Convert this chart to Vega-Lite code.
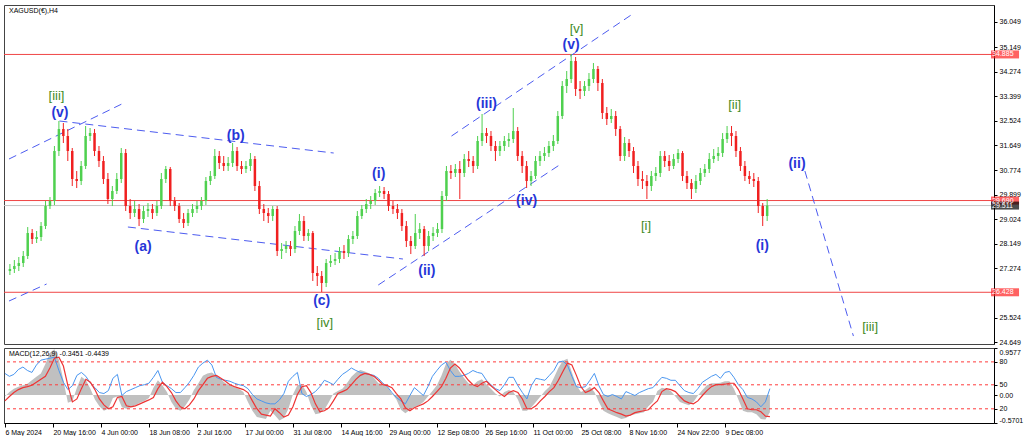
{
"$schema":"https://vega.github.io/schema/vega-lite/v6.json",
"background":"white",
"padding":{"left":2,"top":4,"right":0,"bottom":0},
"bounds":"flush",
"spacing":4,
"datasets":{
"candles":[
{"k":0,"o":27.184,"h":27.433,"l":27.042,"c":27.255},
{"k":1,"o":27.255,"h":27.575,"l":27.113,"c":27.362},
{"k":2,"o":27.362,"h":27.682,"l":27.184,"c":27.468},
{"k":3,"o":27.468,"h":27.895,"l":27.326,"c":27.717},
{"k":4,"o":27.717,"h":28.748,"l":27.611,"c":28.535},
{"k":5,"o":28.535,"h":28.677,"l":28.144,"c":28.322},
{"k":6,"o":28.322,"h":28.607,"l":28.18,"c":28.393},
{"k":7,"o":28.393,"h":28.926,"l":28.251,"c":28.784},
{"k":8,"o":28.784,"h":29.673,"l":28.677,"c":29.495},
{"k":9,"o":29.495,"h":29.815,"l":29.389,"c":29.673},
{"k":10,"o":29.673,"h":31.629,"l":29.531,"c":31.451},
{"k":11,"o":31.451,"h":32.518,"l":31.273,"c":32.233},
{"k":12,"o":32.233,"h":32.447,"l":31.736,"c":31.985},
{"k":13,"o":31.985,"h":32.233,"l":31.096,"c":31.451},
{"k":14,"o":31.451,"h":31.558,"l":30.206,"c":30.456},
{"k":15,"o":30.456,"h":30.74,"l":30.135,"c":30.384},
{"k":16,"o":30.384,"h":31.096,"l":30.242,"c":30.918},
{"k":17,"o":30.918,"h":32.34,"l":30.811,"c":31.985},
{"k":18,"o":31.985,"h":32.269,"l":31.807,"c":32.091},
{"k":19,"o":32.091,"h":32.233,"l":31.273,"c":31.451},
{"k":20,"o":31.451,"h":31.629,"l":30.882,"c":31.096},
{"k":21,"o":31.096,"h":31.273,"l":30.278,"c":30.456},
{"k":22,"o":30.456,"h":30.669,"l":29.566,"c":29.744},
{"k":23,"o":29.744,"h":30.206,"l":29.495,"c":30.029},
{"k":24,"o":30.029,"h":30.669,"l":29.922,"c":30.456},
{"k":25,"o":30.456,"h":31.558,"l":30.313,"c":31.38},
{"k":26,"o":31.38,"h":31.522,"l":29.318,"c":29.495},
{"k":27,"o":29.495,"h":29.744,"l":29.033,"c":29.246},
{"k":28,"o":29.246,"h":29.673,"l":29.104,"c":29.389},
{"k":29,"o":29.389,"h":29.566,"l":28.784,"c":29.033},
{"k":30,"o":29.033,"h":29.495,"l":28.891,"c":29.318},
{"k":31,"o":29.318,"h":29.602,"l":29.104,"c":29.389},
{"k":32,"o":29.389,"h":29.566,"l":29.033,"c":29.246},
{"k":33,"o":29.246,"h":29.673,"l":29.14,"c":29.495},
{"k":34,"o":29.495,"h":30.669,"l":29.389,"c":30.456},
{"k":35,"o":30.456,"h":30.918,"l":30.313,"c":30.811},
{"k":36,"o":30.811,"h":30.882,"l":29.495,"c":29.673},
{"k":37,"o":29.673,"h":29.815,"l":29.318,"c":29.495},
{"k":38,"o":29.495,"h":29.602,"l":28.891,"c":29.033},
{"k":39,"o":29.033,"h":29.246,"l":28.713,"c":28.891},
{"k":40,"o":28.891,"h":29.389,"l":28.784,"c":29.246},
{"k":41,"o":29.246,"h":29.566,"l":29.104,"c":29.389},
{"k":42,"o":29.389,"h":29.673,"l":29.246,"c":29.495},
{"k":43,"o":29.495,"h":29.815,"l":29.353,"c":29.673},
{"k":44,"o":29.673,"h":30.526,"l":29.531,"c":30.384},
{"k":45,"o":30.384,"h":30.74,"l":30.242,"c":30.562},
{"k":46,"o":30.562,"h":31.522,"l":30.456,"c":31.273},
{"k":47,"o":31.273,"h":31.451,"l":30.811,"c":31.024},
{"k":48,"o":31.024,"h":31.273,"l":30.74,"c":30.918},
{"k":49,"o":30.918,"h":31.238,"l":30.74,"c":31.024},
{"k":50,"o":31.024,"h":31.736,"l":30.882,"c":31.451},
{"k":51,"o":31.451,"h":31.593,"l":30.74,"c":30.918},
{"k":52,"o":30.918,"h":31.096,"l":30.633,"c":30.811},
{"k":53,"o":30.811,"h":31.096,"l":30.669,"c":30.918},
{"k":54,"o":30.918,"h":31.38,"l":30.74,"c":31.167},
{"k":55,"o":31.167,"h":31.273,"l":30.029,"c":30.206},
{"k":56,"o":30.206,"h":30.384,"l":29.211,"c":29.389},
{"k":57,"o":29.389,"h":29.566,"l":28.962,"c":29.246},
{"k":58,"o":29.246,"h":29.424,"l":28.891,"c":29.14},
{"k":59,"o":29.14,"h":29.495,"l":28.962,"c":29.389},
{"k":60,"o":29.389,"h":29.495,"l":27.717,"c":27.895},
{"k":61,"o":27.895,"h":28.18,"l":27.611,"c":27.966},
{"k":62,"o":27.966,"h":28.251,"l":27.824,"c":28.073},
{"k":63,"o":28.073,"h":28.251,"l":27.717,"c":27.966},
{"k":64,"o":27.966,"h":28.784,"l":27.824,"c":28.607},
{"k":65,"o":28.607,"h":29.211,"l":28.464,"c":28.962},
{"k":66,"o":28.962,"h":29.14,"l":28.251,"c":28.429},
{"k":67,"o":28.429,"h":28.677,"l":28.251,"c":28.535},
{"k":68,"o":28.535,"h":28.607,"l":26.829,"c":27.113},
{"k":69,"o":27.113,"h":27.362,"l":26.651,"c":27.006},
{"k":70,"o":27.006,"h":27.184,"l":26.437,"c":26.757},
{"k":71,"o":26.757,"h":27.611,"l":26.615,"c":27.468},
{"k":72,"o":27.468,"h":27.753,"l":27.326,"c":27.54},
{"k":73,"o":27.54,"h":27.824,"l":27.397,"c":27.611},
{"k":74,"o":27.611,"h":28.037,"l":27.468,"c":27.895},
{"k":75,"o":27.895,"h":28.108,"l":27.611,"c":27.824},
{"k":76,"o":27.824,"h":28.464,"l":27.682,"c":28.322},
{"k":77,"o":28.322,"h":28.607,"l":28.144,"c":28.429},
{"k":78,"o":28.429,"h":29.318,"l":28.322,"c":29.14},
{"k":79,"o":29.14,"h":29.531,"l":29.033,"c":29.389},
{"k":80,"o":29.389,"h":29.744,"l":29.246,"c":29.566},
{"k":81,"o":29.566,"h":29.851,"l":29.389,"c":29.673},
{"k":82,"o":29.673,"h":30.1,"l":29.531,"c":29.958},
{"k":83,"o":29.958,"h":30.206,"l":29.815,"c":30.029},
{"k":84,"o":30.029,"h":30.171,"l":29.744,"c":29.922},
{"k":85,"o":29.922,"h":30.029,"l":29.318,"c":29.495},
{"k":86,"o":29.495,"h":29.673,"l":29.211,"c":29.389},
{"k":87,"o":29.389,"h":29.566,"l":29.033,"c":29.246},
{"k":88,"o":29.246,"h":29.389,"l":28.607,"c":28.784},
{"k":89,"o":28.784,"h":28.962,"l":28.037,"c":28.251},
{"k":90,"o":28.251,"h":28.429,"l":27.788,"c":28.073},
{"k":91,"o":28.073,"h":29.211,"l":27.966,"c":28.535},
{"k":92,"o":28.535,"h":28.891,"l":28.322,"c":28.677},
{"k":93,"o":28.677,"h":28.784,"l":27.717,"c":28.073},
{"k":94,"o":28.073,"h":28.607,"l":27.895,"c":28.429},
{"k":95,"o":28.429,"h":28.748,"l":28.251,"c":28.535},
{"k":96,"o":28.535,"h":28.891,"l":28.393,"c":28.677},
{"k":97,"o":28.677,"h":30.029,"l":28.535,"c":29.851},
{"k":98,"o":29.851,"h":30.918,"l":29.673,"c":30.74},
{"k":99,"o":30.74,"h":30.953,"l":30.456,"c":30.669},
{"k":100,"o":30.669,"h":30.989,"l":30.526,"c":30.811},
{"k":101,"o":30.811,"h":31.096,"l":29.744,"c":30.669},
{"k":102,"o":30.669,"h":31.344,"l":30.526,"c":31.167},
{"k":103,"o":31.167,"h":31.451,"l":30.882,"c":31.096},
{"k":104,"o":31.096,"h":31.273,"l":30.669,"c":30.918},
{"k":105,"o":30.918,"h":31.985,"l":30.811,"c":31.807},
{"k":106,"o":31.807,"h":32.767,"l":31.629,"c":32.091},
{"k":107,"o":32.091,"h":32.269,"l":31.736,"c":31.985},
{"k":108,"o":31.985,"h":32.162,"l":31.451,"c":31.629},
{"k":109,"o":31.629,"h":31.807,"l":31.096,"c":31.451},
{"k":110,"o":31.451,"h":31.807,"l":31.273,"c":31.629},
{"k":111,"o":31.629,"h":31.985,"l":31.451,"c":31.807},
{"k":112,"o":31.807,"h":32.091,"l":31.593,"c":31.878},
{"k":113,"o":31.878,"h":32.98,"l":31.736,"c":32.162},
{"k":114,"o":32.162,"h":32.304,"l":31.096,"c":31.273},
{"k":115,"o":31.273,"h":31.451,"l":30.669,"c":30.918},
{"k":116,"o":30.918,"h":31.096,"l":30.135,"c":30.384},
{"k":117,"o":30.384,"h":30.74,"l":30.206,"c":30.562},
{"k":118,"o":30.562,"h":31.273,"l":30.456,"c":31.096},
{"k":119,"o":31.096,"h":31.451,"l":30.918,"c":31.273},
{"k":120,"o":31.273,"h":31.593,"l":31.096,"c":31.38},
{"k":121,"o":31.38,"h":31.807,"l":31.238,"c":31.629},
{"k":122,"o":31.629,"h":32.02,"l":31.451,"c":31.807},
{"k":123,"o":31.807,"h":32.873,"l":31.7,"c":32.696},
{"k":124,"o":32.696,"h":33.94,"l":32.589,"c":33.762},
{"k":125,"o":33.762,"h":34.296,"l":33.513,"c":34.011},
{"k":126,"o":34.011,"h":34.9,"l":33.869,"c":34.651},
{"k":127,"o":34.651,"h":34.794,"l":33.407,"c":33.656},
{"k":128,"o":33.656,"h":33.94,"l":33.3,"c":33.585},
{"k":129,"o":33.585,"h":33.94,"l":33.407,"c":33.762},
{"k":130,"o":33.762,"h":34.225,"l":33.585,"c":34.011},
{"k":131,"o":34.011,"h":34.58,"l":33.869,"c":34.367},
{"k":132,"o":34.367,"h":34.474,"l":33.585,"c":33.869},
{"k":133,"o":33.869,"h":34.011,"l":32.589,"c":32.802},
{"k":134,"o":32.802,"h":33.016,"l":32.376,"c":32.589},
{"k":135,"o":32.589,"h":32.945,"l":32.447,"c":32.696},
{"k":136,"o":32.696,"h":32.873,"l":31.985,"c":32.233},
{"k":137,"o":32.233,"h":32.34,"l":31.096,"c":31.273},
{"k":138,"o":31.273,"h":31.949,"l":31.096,"c":31.736},
{"k":139,"o":31.736,"h":31.878,"l":31.238,"c":31.451},
{"k":140,"o":31.451,"h":31.593,"l":30.669,"c":30.918},
{"k":141,"o":30.918,"h":31.096,"l":30.206,"c":30.456},
{"k":142,"o":30.456,"h":30.74,"l":30.1,"c":30.384},
{"k":143,"o":30.384,"h":30.598,"l":29.744,"c":30.206},
{"k":144,"o":30.206,"h":30.74,"l":30.029,"c":30.562},
{"k":145,"o":30.562,"h":30.882,"l":30.384,"c":30.669},
{"k":146,"o":30.669,"h":31.451,"l":30.526,"c":31.273},
{"k":147,"o":31.273,"h":31.451,"l":30.882,"c":31.096},
{"k":148,"o":31.096,"h":31.309,"l":30.74,"c":30.918},
{"k":149,"o":30.918,"h":31.344,"l":30.811,"c":31.167},
{"k":150,"o":31.167,"h":31.522,"l":31.024,"c":31.38},
{"k":151,"o":31.38,"h":31.451,"l":30.384,"c":30.562},
{"k":152,"o":30.562,"h":30.74,"l":30.1,"c":30.313},
{"k":153,"o":30.313,"h":30.456,"l":29.744,"c":30.1},
{"k":154,"o":30.1,"h":30.598,"l":29.958,"c":30.384},
{"k":155,"o":30.384,"h":30.847,"l":30.242,"c":30.669},
{"k":156,"o":30.669,"h":30.989,"l":30.526,"c":30.811},
{"k":157,"o":30.811,"h":31.38,"l":30.669,"c":31.167},
{"k":158,"o":31.167,"h":31.522,"l":31.024,"c":31.273},
{"k":159,"o":31.273,"h":31.593,"l":31.096,"c":31.38},
{"k":160,"o":31.38,"h":32.091,"l":31.238,"c":31.878},
{"k":161,"o":31.878,"h":32.34,"l":31.736,"c":32.091},
{"k":162,"o":32.091,"h":32.34,"l":31.629,"c":31.985},
{"k":163,"o":31.985,"h":32.162,"l":31.238,"c":31.451},
{"k":164,"o":31.451,"h":31.593,"l":30.74,"c":30.918},
{"k":165,"o":30.918,"h":31.096,"l":30.384,"c":30.562},
{"k":166,"o":30.562,"h":30.74,"l":30.278,"c":30.456},
{"k":167,"o":30.456,"h":30.669,"l":30.171,"c":30.384},
{"k":168,"o":30.384,"h":30.526,"l":29.246,"c":29.495},
{"k":169,"o":29.495,"h":29.602,"l":28.784,"c":29.14},
{"k":170,"o":29.14,"h":29.744,"l":28.962,"c":29.511}
],
"macd":[
{"k":0,"m":-0.03,"s":-0.12,"b":0.44},{"k":1,"m":0.06,"s":-0.03,"b":0.38},{"k":2,"m":0.13,"s":0.05,"b":0.42},{"k":3,"m":0.17,"s":0.11,"b":0.52},{"k":4,"m":0.2,"s":0.15,"b":0.57},{"k":5,"m":0.23,"s":0.17,"b":0.5},{"k":6,"m":0.3,"s":0.2,"b":0.46},{"k":7,"m":0.37,"s":0.26,"b":0.61},{"k":8,"m":0.44,"s":0.32,"b":0.71},{"k":9,"m":0.63,"s":0.38,"b":0.73},
{"k":10,"m":0.86,"s":0.55,"b":0.75},{"k":11,"m":0.93,"s":0.75,"b":0.77},{"k":12,"m":0.72,"s":0.77,"b":0.5},{"k":13,"m":0.3,"s":0.59,"b":0.26},{"k":14,"m":-0.16,"s":0.19,"b":0.11},{"k":15,"m":-0.12,"s":-0.14,"b":0.19},{"k":16,"m":0.15,"s":-0.08,"b":0.4},{"k":17,"m":0.37,"s":0.13,"b":0.46},{"k":18,"m":0.3,"s":0.32,"b":0.38},{"k":19,"m":0.13,"s":0.26,"b":0.24},
{"k":20,"m":-0.09,"s":0.11,"b":0.15},{"k":21,"m":-0.23,"s":-0.08,"b":0.05},{"k":22,"m":-0.32,"s":-0.2,"b":0.03},{"k":23,"m":-0.28,"s":-0.28,"b":0.09},{"k":24,"m":-0.06,"s":-0.24,"b":0.34},{"k":25,"m":-0.03,"s":-0.05,"b":0.42},{"k":26,"m":-0.25,"s":-0.03,"b":-0.01},{"k":27,"m":-0.28,"s":-0.22,"b":0.07},{"k":28,"m":-0.25,"s":-0.24,"b":0.11},{"k":29,"m":-0.21,"s":-0.22,"b":0.15},
{"k":30,"m":-0.16,"s":-0.18,"b":0.19},{"k":31,"m":-0.12,"s":-0.14,"b":0.21},{"k":32,"m":-0.06,"s":-0.1,"b":0.24},{"k":33,"m":0.15,"s":-0.05,"b":0.36},{"k":34,"m":0.3,"s":0.13,"b":0.5},{"k":35,"m":0.2,"s":0.26,"b":0.26},{"k":36,"m":0.06,"s":0.17,"b":0.19},{"k":37,"m":-0.14,"s":0.05,"b":0.13},{"k":38,"m":-0.28,"s":-0.12,"b":0.05},{"k":39,"m":-0.32,"s":-0.24,"b":0.05},
{"k":40,"m":-0.23,"s":-0.28,"b":0.15},{"k":41,"m":-0.09,"s":-0.2,"b":0.26},{"k":42,"m":0.1,"s":-0.08,"b":0.4},{"k":43,"m":0.24,"s":0.09,"b":0.57},{"k":44,"m":0.39,"s":0.21,"b":0.65},{"k":45,"m":0.44,"s":0.34,"b":0.71},{"k":46,"m":0.46,"s":0.38,"b":0.61},{"k":47,"m":0.39,"s":0.4,"b":0.36},{"k":48,"m":0.32,"s":0.34,"b":0.32},{"k":49,"m":0.24,"s":0.28,"b":0.3},
{"k":50,"m":0.2,"s":0.21,"b":0.28},{"k":51,"m":0.16,"s":0.17,"b":0.24},{"k":52,"m":0.13,"s":0.14,"b":0.21},{"k":53,"m":0.06,"s":0.11,"b":0.19},{"k":54,"m":-0.14,"s":0.05,"b":0.13},{"k":55,"m":-0.32,"s":-0.12,"b":0.01},{"k":56,"m":-0.45,"s":-0.28,"b":-0.08},{"k":57,"m":-0.47,"s":-0.39,"b":-0.12},{"k":58,"m":-0.49,"s":-0.41,"b":-0.16},{"k":59,"m":-0.32,"s":-0.43,"b":-0.18},
{"k":60,"m":-0.41,"s":-0.28,"b":-0.18},{"k":61,"m":-0.52,"s":-0.36,"b":-0.1},{"k":62,"m":-0.47,"s":-0.45,"b":0.03},{"k":63,"m":-0.28,"s":-0.41,"b":0.28},{"k":64,"m":0.01,"s":-0.24,"b":0.38},{"k":65,"m":0.2,"s":0.01,"b":0.46},{"k":66,"m":0.22,"s":0.17,"b":0.03},{"k":67,"m":0.06,"s":0.19,"b":-0.03},{"k":68,"m":-0.21,"s":0.05,"b":0.01},{"k":69,"m":-0.39,"s":-0.18,"b":0.07},
{"k":70,"m":-0.37,"s":-0.34,"b":0.17},{"k":71,"m":-0.3,"s":-0.32,"b":0.3},{"k":72,"m":-0.14,"s":-0.26,"b":0.26},{"k":73,"m":0.03,"s":-0.12,"b":0.21},{"k":74,"m":0.08,"s":0.03,"b":0.32},{"k":75,"m":0.13,"s":0.07,"b":0.42},{"k":76,"m":0.24,"s":0.11,"b":0.48},{"k":77,"m":0.37,"s":0.21,"b":0.55},{"k":78,"m":0.46,"s":0.32,"b":0.5},{"k":79,"m":0.51,"s":0.4,"b":0.46},
{"k":80,"m":0.48,"s":0.44,"b":0.44},{"k":81,"m":0.44,"s":0.42,"b":0.42},{"k":82,"m":0.35,"s":0.38,"b":0.4},{"k":83,"m":0.24,"s":0.3,"b":0.34},{"k":84,"m":0.22,"s":0.21,"b":0.24},{"k":85,"m":0.17,"s":0.19,"b":0.17},{"k":86,"m":0.03,"s":0.15,"b":0.05},{"k":87,"m":-0.09,"s":0.03,"b":-0.05},{"k":88,"m":-0.3,"s":-0.08,"b":-0.12},{"k":89,"m":-0.37,"s":-0.26,"b":-0.18},
{"k":90,"m":-0.3,"s":-0.32,"b":-0.01},{"k":91,"m":-0.25,"s":-0.26,"b":0.15},{"k":92,"m":-0.21,"s":-0.22,"b":0.07},{"k":93,"m":-0.14,"s":-0.18,"b":-0.01},{"k":94,"m":-0.03,"s":-0.12,"b":0.17},{"k":95,"m":0.08,"s":-0.03,"b":0.38},{"k":96,"m":0.2,"s":0.07,"b":0.5},{"k":97,"m":0.39,"s":0.17,"b":0.61},{"k":98,"m":0.63,"s":0.34,"b":0.67},{"k":99,"m":0.72,"s":0.55,"b":0.5},
{"k":100,"m":0.63,"s":0.63,"b":0.38},{"k":101,"m":0.48,"s":0.55,"b":0.38},{"k":102,"m":0.35,"s":0.42,"b":0.4},{"k":103,"m":0.24,"s":0.3,"b":0.44},{"k":104,"m":0.2,"s":0.21,"b":0.5},{"k":105,"m":0.28,"s":0.17,"b":0.46},{"k":106,"m":0.32,"s":0.24,"b":0.44},{"k":107,"m":0.22,"s":0.28,"b":0.3},{"k":108,"m":0.13,"s":0.19,"b":0.21},{"k":109,"m":0.03,"s":0.11,"b":0.13},
{"k":110,"m":-0.03,"s":0.03,"b":0.09},{"k":111,"m":0.06,"s":-0.03,"b":0.21},{"k":112,"m":0.1,"s":0.05,"b":0.36},{"k":113,"m":0.06,"s":0.09,"b":0.36},{"k":114,"m":-0.09,"s":0.05,"b":0.19},{"k":115,"m":-0.32,"s":-0.08,"b":0.05},{"k":116,"m":-0.32,"s":-0.28,"b":-0.08},{"k":117,"m":-0.25,"s":-0.28,"b":0.19},{"k":118,"m":-0.14,"s":-0.22,"b":0.34},{"k":119,"m":-0.03,"s":-0.12,"b":0.32},
{"k":120,"m":0.08,"s":-0.03,"b":0.3},{"k":121,"m":0.17,"s":0.07,"b":0.4},{"k":122,"m":0.35,"s":0.15,"b":0.5},{"k":123,"m":0.55,"s":0.3,"b":0.67},{"k":124,"m":0.7,"s":0.48,"b":0.69},{"k":125,"m":0.74,"s":0.65,"b":0.61},{"k":126,"m":0.46,"s":0.61,"b":0.38},{"k":127,"m":0.2,"s":0.4,"b":0.17},{"k":128,"m":0.06,"s":0.17,"b":0.15},{"k":129,"m":0.1,"s":0.05,"b":0.17},
{"k":130,"m":0.17,"s":0.09,"b":0.3},{"k":131,"m":0.06,"s":0.15,"b":0.44},{"k":132,"m":-0.14,"s":0.05,"b":0.19},{"k":133,"m":-0.32,"s":-0.12,"b":0.01},{"k":134,"m":-0.37,"s":-0.28,"b":-0.03},{"k":135,"m":-0.41,"s":-0.32,"b":0.01},{"k":136,"m":-0.45,"s":-0.36,"b":-0.03},{"k":137,"m":-0.49,"s":-0.39,"b":-0.08},{"k":138,"m":-0.47,"s":-0.43,"b":0.07},{"k":139,"m":-0.41,"s":-0.41,"b":0.03},
{"k":140,"m":-0.39,"s":-0.36,"b":-0.01},{"k":141,"m":-0.37,"s":-0.34,"b":0.05},{"k":142,"m":-0.35,"s":-0.32,"b":0.09},{"k":143,"m":-0.23,"s":-0.3,"b":0.13},{"k":144,"m":-0.14,"s":-0.2,"b":0.15},{"k":145,"m":0.08,"s":-0.12,"b":0.26},{"k":146,"m":0.15,"s":0.07,"b":0.36},{"k":147,"m":0.13,"s":0.13,"b":0.34},{"k":148,"m":0.08,"s":0.11,"b":0.3},{"k":149,"m":-0.03,"s":0.07,"b":0.3},
{"k":150,"m":-0.14,"s":-0.03,"b":0.19},{"k":151,"m":-0.18,"s":-0.12,"b":0.09},{"k":152,"m":-0.21,"s":-0.16,"b":0.05},{"k":153,"m":-0.14,"s":-0.18,"b":0.03},{"k":154,"m":-0.01,"s":-0.12,"b":0.13},{"k":155,"m":0.1,"s":-0.01,"b":0.26},{"k":156,"m":0.2,"s":0.09,"b":0.32},{"k":157,"m":0.24,"s":0.17,"b":0.38},{"k":158,"m":0.24,"s":0.21,"b":0.42},{"k":159,"m":0.25,"s":0.21,"b":0.34},
{"k":160,"m":0.28,"s":0.22,"b":0.46},{"k":161,"m":0.28,"s":0.24,"b":0.48},{"k":162,"m":0.13,"s":0.24,"b":0.36},{"k":163,"m":-0.09,"s":0.11,"b":0.21},{"k":164,"m":-0.32,"s":-0.08,"b":0.11},{"k":165,"m":-0.35,"s":-0.28,"b":-0.05},{"k":166,"m":-0.35,"s":-0.3,"b":-0.08},{"k":167,"m":-0.39,"s":-0.3,"b":-0.14},{"k":168,"m":-0.49,"s":-0.34,"b":-0.24},{"k":169,"m":-0.5,"s":-0.43,"b":-0.14},
{"k":170,"m":-0.35,"s":-0.44,"b":0.13}
],
"hlines":[{"p":34.885,"kind":"level"},{"p":29.69,"kind":"level"},{"p":26.428,"kind":"level"},{"p":29.511,"kind":"bid"}],
"boxes":[{"p":34.885,"t":"34.885","kind":"level"},{"p":29.69,"t":"29.690","kind":"level"},{"p":26.428,"t":"26.428","kind":"level"},{"p":29.511,"t":"29.511","kind":"bid"}],
"channels":[
{"seg":1,"k":-0.2,"p":31.167},{"seg":1,"k":25.58,"p":33.158},
{"seg":2,"k":-0.2,"p":26.117},{"seg":2,"k":8.24,"p":26.722},
{"seg":3,"k":11.13,"p":32.518},{"seg":3,"k":72.69,"p":31.38},
{"seg":4,"k":26.49,"p":28.749},{"seg":4,"k":88.24,"p":27.611},
{"seg":5,"k":82.69,"p":26.686},{"seg":5,"k":123.36,"p":30.953},
{"seg":6,"k":99.13,"p":31.984},{"seg":6,"k":139.8,"p":36.323},
{"seg":7,"k":178.47,"p":30.74},{"seg":7,"k":189.36,"p":24.872}
],
"labels":[
{"t":"(v)","g":"blue","k":11.24,"p":32.82},
{"t":"(a)","g":"blue","k":29.9,"p":28.055},
{"t":"(b)","g":"blue","k":50.7,"p":31.985},
{"t":"(c)","g":"blue","k":70.0,"p":26.117},
{"t":"(i)","g":"blue","k":82.8,"p":30.651},
{"t":"(ii)","g":"blue","k":93.6,"p":27.184},
{"t":"(iii)","g":"blue","k":107.0,"p":33.14},
{"t":"(iv)","g":"blue","k":116.0,"p":29.673},
{"t":"(v)","g":"blue","k":126.0,"p":35.238},
{"t":"(i)","g":"blue","k":168.9,"p":28.073},
{"t":"(ii)","g":"blue","k":176.7,"p":30.989},
{"t":"[iii]","g":"green","k":10.47,"p":33.39},
{"t":"[iv]","g":"green","k":70.7,"p":25.335},
{"t":"[v]","g":"green","k":127.2,"p":35.807},
{"t":"[i]","g":"green","k":142.8,"p":28.802},
{"t":"[ii]","g":"green","k":162.7,"p":33.105},
{"t":"[iii]","g":"green","k":193.1,"p":25.192}
],
"levels":[{"v":0.675},{"v":0.208},{"v":-0.281}]
},
"vconcat":[
{
"width":990,"height":339,
"title":{"text":"XAGUSD(€),H4","anchor":"start","frame":"group","offset":-9,"dx":5,"fontSize":7,"fontWeight":"normal","font":"Liberation Sans","color":"#000000"},
"layer":[
{"data":{"name":"hlines"},"mark":{"type":"rule","strokeWidth":1},
"encoding":{"y":{"field":"p","type":"quantitative","scale":{"domain":[24.589,36.643],"nice":false,"zero":false},
"axis":{"orient":"right","title":null,"values":[36.049,35.149,34.274,33.399,32.524,31.649,30.774,29.899,29.024,28.149,27.274,25.524,24.649],"tickCount":50,"format":".3f","tickSize":3,"labelPadding":2,"labelFlush":false,"labelOverlap":false}},
"color":{"condition":{"test":"datum.kind == 'bid'","value":"#c4c4c4"},"value":"#f04646"}}},
{"data":{"name":"channels"},"mark":{"type":"line","strokeDash":[8,5],"strokeWidth":1,"color":"#4d5cf0"},
"encoding":{"x":{"field":"k","type":"quantitative","scale":{"domain":[-0.2,219.8],"nice":false,"zero":false},"axis":null},
"y":{"field":"p","type":"quantitative","axis":{"title":null,"labelOverlap":false,"tickCount":50}},"detail":{"field":"seg","type":"nominal"}}},
{"data":{"name":"candles"},"mark":{"type":"rule","strokeWidth":1},
"encoding":{"x":{"field":"k","type":"quantitative","axis":null},"y":{"field":"l","type":"quantitative","axis":{"title":null,"labelOverlap":false,"tickCount":50}},"y2":{"field":"h"},
"color":{"condition":{"test":"datum.c >= datum.o","value":"#4fd04f"},"value":"#f02020"}}},
{"data":{"name":"candles"},"mark":{"type":"bar","size":2.5},
"encoding":{"x":{"field":"k","type":"quantitative","axis":null},"y":{"field":"o","type":"quantitative","axis":{"title":null,"labelOverlap":false,"tickCount":50}},"y2":{"field":"c"},
"color":{"condition":{"test":"datum.c >= datum.o","value":"#4fd04f"},"value":"#f02020"}}},
{"data":{"name":"labels"},"transform":[{"filter":"datum.g == 'blue'"}],"mark":{"type":"text","font":"Liberation Sans","fontSize":14,"fontWeight":"bold","color":"#2636d8","align":"center","baseline":"middle"},
"encoding":{"x":{"field":"k","type":"quantitative","axis":null},"y":{"field":"p","type":"quantitative","axis":{"title":null,"labelOverlap":false,"tickCount":50}},"text":{"field":"t"}}},
{"data":{"name":"labels"},"transform":[{"filter":"datum.g == 'green'"}],"mark":{"type":"text","font":"Liberation Sans","fontSize":13,"color":"#3f8a1e","align":"center","baseline":"middle"},
"encoding":{"x":{"field":"k","type":"quantitative","axis":null},"y":{"field":"p","type":"quantitative","axis":{"title":null,"labelOverlap":false,"tickCount":50}},"text":{"field":"t"}}},
{"mark":{"type":"rule","strokeWidth":2.5,"color":"#000000"},
"encoding":{"x":{"datum":219.8,"type":"quantitative","axis":null},"y":{"datum":36.643,"type":"quantitative","axis":{"title":null,"labelOverlap":false,"tickCount":50}},"y2":{"datum":31.35}}},
{"data":{"name":"boxes"},"mark":{"type":"tick","orient":"horizontal","size":28,"thickness":8},
"encoding":{"x":{"datum":223.4,"type":"quantitative","axis":null},"y":{"field":"p","type":"quantitative","axis":{"title":null,"labelOverlap":false,"tickCount":50}},
"color":{"condition":{"test":"datum.kind == 'bid'","value":"#000000"},"value":"#ff2020"}}},
{"data":{"name":"boxes"},"mark":{"type":"text","font":"Liberation Sans","fontSize":7,"color":"#ffffff","align":"left","baseline":"middle"},
"encoding":{"x":{"datum":220.5,"type":"quantitative","axis":null},"y":{"field":"p","type":"quantitative","axis":{"title":null,"labelOverlap":false,"tickCount":50}},"text":{"field":"t"}}}
]
},
{
"width":990,"height":75,
"title":{"text":"MACD(12,26,9) -0.3451 -0.4439","anchor":"start","frame":"group","offset":-9,"dx":5,"fontSize":7,"fontWeight":"normal","font":"Liberation Sans","color":"#000000"},
"data":{"name":"macd"},
"layer":[
{"mark":{"type":"area","color":"#c0c0c0"},
"encoding":{"x":{"field":"k","type":"quantitative","scale":{"domain":[-0.2,219.8],"nice":false,"zero":false},
"axis":{"title":null,"orient":"bottom","values":[0,10.6667,21.3333,32,42.6667,53.3333,64,74.6667,85.3333,96,106.6667,117.3333,128,138.6667,149.3333,160],"tickCount":50,
"labelExpr":"['6 May 2024','20 May 16:00','4 Jun 00:00','18 Jun 08:00','2 Jul 16:00','17 Jul 00:00','31 Jul 08:00','14 Aug 16:00','29 Aug 00:00','12 Sep 08:00','26 Sep 16:00','11 Oct 00:00','25 Oct 08:00','8 Nov 16:00','24 Nov 22:00','9 Dec 08:00'][round(datum.value*6/64)]",
"labelAlign":"left","labelBaseline":"top","labelFlush":false,"labelOverlap":false,"tickSize":4,"labelPadding":1}},
"y":{"field":"m","type":"quantitative","scale":{"domain":[-0.5701,0.9577],"nice":false,"zero":false},
"axis":{"orient":"right","title":null,"values":[0.9577,0.675,0.208,0,-0.281,-0.5701],"tickCount":50,
"labelExpr":"datum.value > 0.9 ? '0.9577' : datum.value > 0.6 ? '80' : datum.value > 0.1 ? '50' : datum.value > -0.1 ? '0.00' : datum.value > -0.4 ? '20' : '-0.5701'",
"labelFlush":true,"labelOverlap":false,"tickSize":3,"labelPadding":2}},
"y2":{"datum":0}}},
{"data":{"name":"levels"},"mark":{"type":"rule","strokeDash":[3,3],"strokeWidth":1,"color":"#ff3b3b"},
"encoding":{"y":{"field":"v","type":"quantitative","axis":{"title":null,"labelOverlap":false,"tickCount":50}}}},
{"mark":{"type":"line","strokeWidth":1,"color":"#4a96f0"},
"encoding":{"x":{"field":"k","type":"quantitative","axis":{"title":null,"labelOverlap":false,"tickCount":50}},"y":{"field":"b","type":"quantitative","axis":{"title":null,"labelOverlap":false,"tickCount":50}}}},
{"mark":{"type":"line","strokeWidth":1.2,"color":"#ee3434"},
"encoding":{"x":{"field":"k","type":"quantitative","axis":{"title":null,"labelOverlap":false,"tickCount":50}},"y":{"field":"s","type":"quantitative","axis":{"title":null,"labelOverlap":false,"tickCount":50}}}}
]
}
],
"config":{
"view":{"stroke":"#444444","strokeWidth":1},
"font":"Liberation Sans",
"axis":{"labelFont":"Liberation Sans","labelFontSize":7,"labelColor":"#000000","domainColor":"#000000","tickColor":"#000000","grid":false,"labelOverlap":false,"domainWidth":1,"tickWidth":1}
}
}
